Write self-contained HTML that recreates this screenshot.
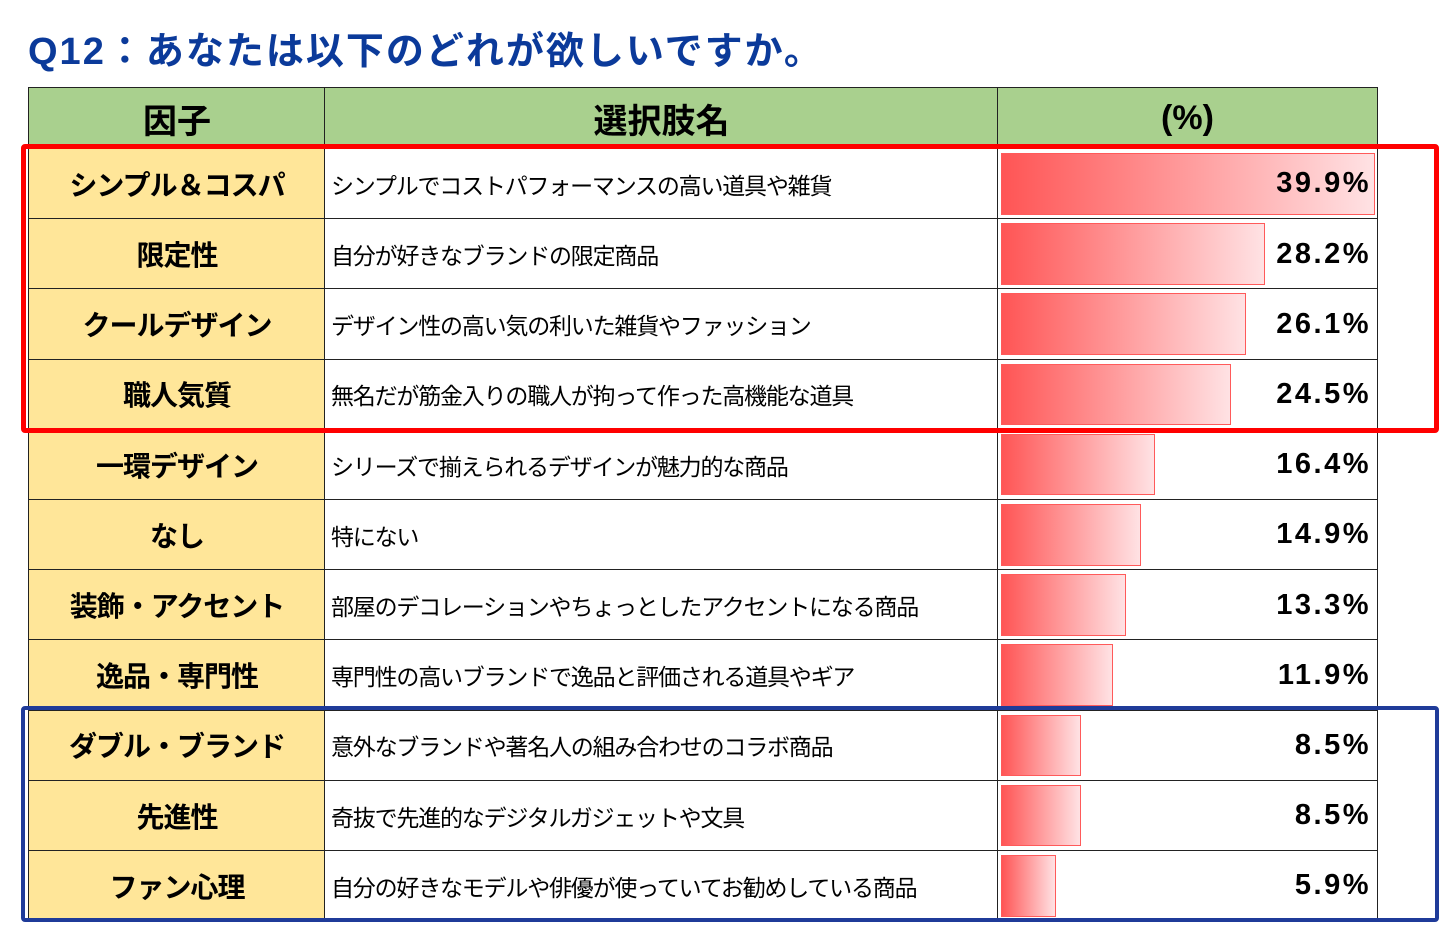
<!DOCTYPE html>
<html><head><meta charset="utf-8"><style>
body{margin:0;width:1440px;height:926px;background:#fff;position:relative;overflow:hidden;font-family:"Liberation Sans","Noto Sans CJK JP",sans-serif}
.t{position:absolute;left:28px;top:20px;font-size:38px;font-weight:bold;color:#0b3a9a;white-space:nowrap;letter-spacing:2px}
.c{position:absolute;box-sizing:border-box;border:1.5px solid #222;display:flex;align-items:center}
.h{background:#a9d08e;justify-content:center;font-size:34px;font-weight:bold}
.f{background:#ffe699;justify-content:center;font-size:28px;font-weight:bold;letter-spacing:-1px}
.d{background:#fff;font-size:23px;padding-left:6px;white-space:nowrap;letter-spacing:-1.2px}
.p{background:#fff}
.bar{position:absolute;left:3px;top:4px;bottom:4px;box-sizing:border-box;border:1.5px solid #ff5a5a;background:linear-gradient(to right,#ff5555,#ffe2e4)}
.v{position:absolute;right:6px;top:0;bottom:0;display:flex;align-items:center;font-size:29px;font-weight:bold;letter-spacing:2.5px;font-family:"Liberation Sans",sans-serif}
.box{position:absolute;box-sizing:border-box;border-radius:4px}
</style></head><body>
<div class="t">Q12：あなたは以下のどれが欲しいですか。</div>
<div id="tbl"></div>
<script>
var rows=[["シンプル＆コスパ","シンプルでコストパフォーマンスの高い道具や雑貨",39.9],["限定性","自分が好きなブランドの限定商品",28.2],["クールデザイン","デザイン性の高い気の利いた雑貨やファッション",26.1],["職人気質","無名だが筋金入りの職人が拘って作った高機能な道具",24.5],["一環デザイン","シリーズで揃えられるデザインが魅力的な商品",16.4],["なし","特にない",14.9],["装飾・アクセント","部屋のデコレーションやちょっとしたアクセントになる商品",13.3],["逸品・専門性","専門性の高いブランドで逸品と評価される道具やギア",11.9],["ダブル・ブランド","意外なブランドや著名人の組み合わせのコラボ商品",8.5],["先進性","奇抜で先進的なデジタルガジェットや文具",8.5],["ファン心理","自分の好きなモデルや俳優が使っていてお勧めしている商品",5.9]];
var h='';
function cell(cls,x,y,w,hh,inner){return '<div class="c '+cls+'" style="left:'+x+'px;top:'+y+'px;width:'+w+'px;height:'+hh+'px">'+inner+'</div>';}
h+=cell('h',28,87,298,63,'因子')+cell('h',324,87,675,63,'選択肢名')+cell('h',997,87,381,63,'(%)');
for(var i=0;i<11;i++){var y=148+i*70.2;var hh=71.7;var r=rows[i];
h+=cell('f',28,y,298,hh,r[0])+cell('d',324,y,675,hh,r[1])+cell('p',997,y,381,hh,'<div class="bar" style="width:'+(r[2]*9.37)+'px"></div><div class="v">'+r[2].toFixed(1)+'%</div>');}
h+='<div class="box" style="left:21px;top:144px;width:1418px;height:289px;border:5px solid #ff0000"></div>';
h+='<div class="box" style="left:21px;top:706px;width:1418px;height:216px;border:4px solid #1f3b99"></div>';
document.getElementById('tbl').innerHTML=h;
</script>
</body></html>
